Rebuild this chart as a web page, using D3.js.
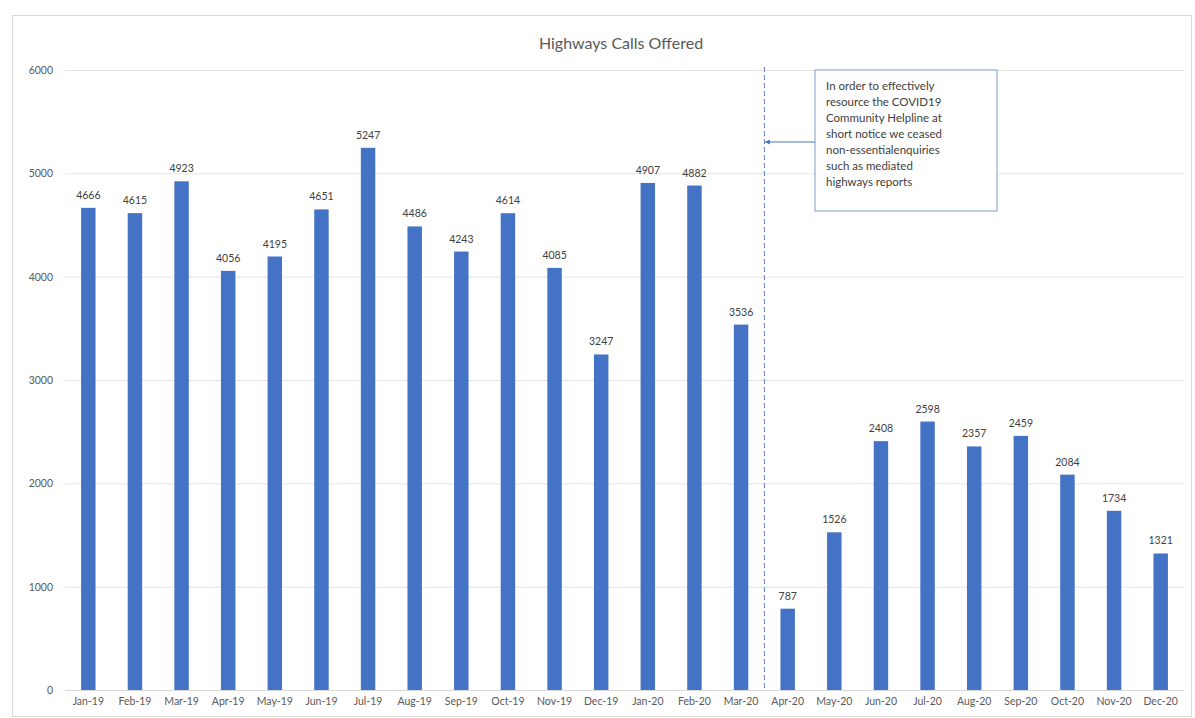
<!DOCTYPE html>
<html>
<head>
<meta charset="utf-8">
<script src="https://cdn.jsdelivr.net/npm/d3@7"></script>
<style>
  body { margin: 0; background: #fff; }
  text { font-family: Lato, "Open Sans", sans-serif; }
</style>
</head>
<body>
<div id="chart"></div>
<script>
var svgWidth = 1195;
var svgHeight = 718;

// data
var months = ["Jan-19", "Feb-19", "Mar-19", "Apr-19", "May-19", "Jun-19", "Jul-19", "Aug-19",
  "Sep-19", "Oct-19", "Nov-19", "Dec-19", "Jan-20", "Feb-20", "Mar-20", "Apr-20", "May-20",
  "Jun-20", "Jul-20", "Aug-20", "Sep-20", "Oct-20", "Nov-20", "Dec-20"];
var calls = [4666, 4615, 4923, 4056, 4195, 4651, 5247, 4486, 4243, 4614, 4085, 3247,
  4907, 4882, 3536, 787, 1526, 2408, 2598, 2357, 2459, 2084, 1734, 1321];
var yTicks = [0, 1000, 2000, 3000, 4000, 5000, 6000];
var noteLines = ["In order to effectively", "resource the COVID19", "Community Helpline at",
  "short notice we ceased", "non-essentialenquiries", "such as mediated", "highways reports"];

var margin = { top: 70, right: 11, bottom: 28, left: 65 };
var width = svgWidth - margin.left - margin.right;
var height = svgHeight - margin.top - margin.bottom;

var svg = d3.select("#chart")
  .append("svg")
  .attr("width", svgWidth)
  .attr("height", svgHeight);

// outer chart border
svg.append("rect")
  .attr("x", 12.5).attr("y", 15.5)
  .attr("width", svgWidth - 16).attr("height", svgHeight - 17)
  .attr("fill", "none")
  .attr("stroke", "#d9d9d9");

svg.append("text")
  .attr("x", 621).attr("y", 49)
  .attr("text-anchor", "middle")
  .attr("font-size", 16)
  .attr("fill", "#595959")
  .text("Highways Calls Offered");

var chartGroup = svg.append("g")
  .attr("transform", `translate(${margin.left}, ${margin.top})`);

var x = d3.scaleBand()
  .domain(months)
  .range([0, width])
  .paddingInner(0.69)
  .paddingOuter(0.345);

var y = d3.scaleLinear()
  .domain([0, 6000])
  .range([height, 0]);

// gridlines + y labels
var leftAxis = d3.axisLeft(y).tickValues(yTicks).tickFormat(d3.format("d"))
  .tickSize(-width).tickPadding(12);
var yAxis = chartGroup.append("g").call(leftAxis);
yAxis.select(".domain").remove();
yAxis.selectAll(".tick line").attr("stroke", "#e3e3e3");
yAxis.selectAll(".tick text")
  .attr("font-size", 10.5)
  .attr("fill", "#595959");

// x axis
var bottomAxis = d3.axisBottom(x).tickSize(0).tickPadding(8);
var xAxis = chartGroup.append("g")
  .attr("transform", `translate(0, ${height})`)
  .call(bottomAxis);
xAxis.select(".domain").attr("stroke", "#d9d9d9");
xAxis.selectAll(".tick text")
  .attr("font-size", 10.5)
  .attr("fill", "#595959");

// bars
chartGroup.selectAll(".bar")
  .data(calls)
  .enter()
  .append("rect")
  .attr("class", "bar")
  .attr("x", (d, i) => x(months[i]))
  .attr("y", d => y(d))
  .attr("width", x.bandwidth())
  .attr("height", d => height - y(d))
  .attr("fill", "#4472c4");

// value labels
chartGroup.selectAll(".val")
  .data(calls)
  .enter()
  .append("text")
  .attr("class", "val")
  .attr("x", (d, i) => x(months[i]) + x.bandwidth() / 2)
  .attr("y", d => y(d) - 9)
  .attr("text-anchor", "middle")
  .attr("font-size", 10.5)
  .attr("fill", "#404040")
  .text(d => d);

// dashed divider between Mar-20 and Apr-20
var divX = (x("Mar-20") + x("Apr-20") + x.bandwidth()) / 2;
chartGroup.append("line")
  .attr("x1", divX).attr("x2", divX)
  .attr("y1", -3).attr("y2", height)
  .attr("stroke", "#5b7fc0")
  .attr("stroke-dasharray", "5,3");

// annotation box
var boxX = 815 - margin.left, boxY = 70 - margin.top, boxW = 182, boxH = 141;
chartGroup.append("rect")
  .attr("x", boxX).attr("y", boxY)
  .attr("width", boxW).attr("height", boxH)
  .attr("fill", "#fff")
  .attr("stroke", "#7f9cc4");

chartGroup.selectAll(".note")
  .data(noteLines)
  .enter()
  .append("text")
  .attr("class", "note")
  .attr("x", boxX + 11)
  .attr("y", (d, i) => boxY + 20 + i * 16)
  .attr("font-size", 11.5)
  .attr("fill", "#404040")
  .text(d => d);

// arrow from box to divider
svg.append("defs").append("marker")
  .attr("id", "arrow")
  .attr("viewBox", "0 0 10 10")
  .attr("refX", 9).attr("refY", 5)
  .attr("markerWidth", 5).attr("markerHeight", 5)
  .attr("orient", "auto")
  .append("path")
  .attr("d", "M0,0 L10,5 L0,10 z")
  .attr("fill", "#4472c4");

chartGroup.append("line")
  .attr("x1", boxX).attr("x2", divX + 1)
  .attr("y1", boxY + 72).attr("y2", boxY + 72)
  .attr("stroke", "#4472c4")
  .attr("marker-end", "url(#arrow)");
</script>
</body>
</html>
